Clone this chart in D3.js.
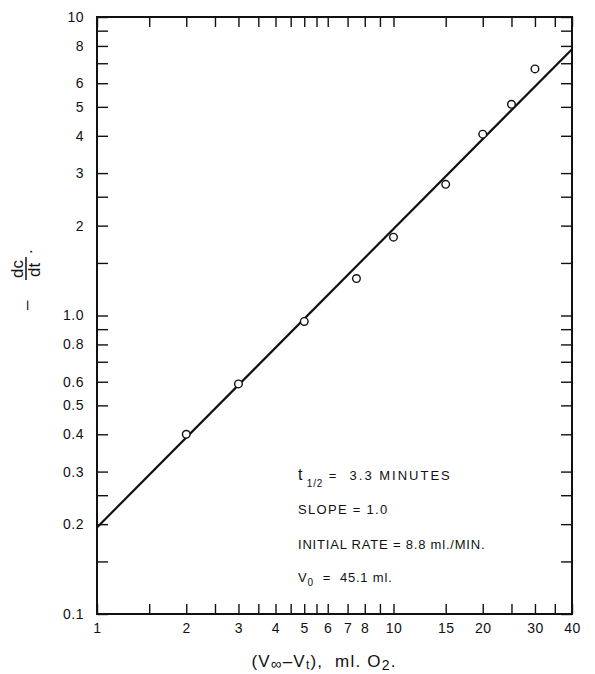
<!DOCTYPE html>
<html>
<head>
<meta charset="utf-8">
<script src="https://cdn.jsdelivr.net/npm/d3@7"></script>
<style>
  body { margin: 0; background: #fff; }
  text { font-family: "Liberation Sans", Arial, sans-serif; fill: #111; white-space: pre; }
  .tick line { stroke: #111; stroke-width: 1.4; }
  .tick text { font-size: 14px; letter-spacing: 0.5px; }
</style>
</head>
<body>
<div id="chart"></div>
<script>
// data: (V_inf - V_t) vs -dc/dt
var volumes = [2, 3, 5, 7.5, 10, 15, 20, 25, 30];
var rates = [0.40, 0.59, 0.955, 1.33, 1.83, 2.75, 4.05, 5.1, 6.7];

// fitted line (slope = 1.0 on log-log)
var fitX = [1, 40];
var fitY = [0.195, 7.8];

// tick positions and labels
var xTicks = [1, 1.5, 2, 2.5, 3, 3.5, 4, 4.5, 5, 5.5, 6, 7, 8, 9, 10, 15, 20, 25, 30, 35, 40];
var xLabels = [1, 2, 3, 4, 5, 6, 7, 8, 10, 15, 20, 30, 40];
var yTicks = [0.1, 0.15, 0.2, 0.25, 0.3, 0.4, 0.5, 0.6, 0.7, 0.8, 0.9, 1, 1.5, 2, 2.5, 3, 4, 5, 6, 7, 8, 9, 10];
var yLabels = [0.1, 0.2, 0.3, 0.4, 0.5, 0.6, 0.8, 1, 2, 3, 4, 5, 6, 8, 10];

var svgWidth = 595;
var svgHeight = 674;

var margin = {
  top: 17,
  right: 23,
  bottom: 60,
  left: 97
};

var width = svgWidth - margin.left - margin.right;
var height = svgHeight - margin.top - margin.bottom;

var svg = d3
  .select("#chart")
  .append("svg")
  .attr("width", svgWidth)
  .attr("height", svgHeight);

var chartGroup = svg.append("g")
  .attr("transform", `translate(${margin.left}, ${margin.top})`);

// log scales on both axes
var xLogScale = d3.scaleLog()
  .domain([1, 40])
  .range([0, width]);

var yLogScale = d3.scaleLog()
  .domain([0.1, 10])
  .range([height, 0]);

function yFormat(d) {
  if (!yLabels.includes(d)) return "";
  if (d === 1) return "1.0";
  return String(d);
}

function xFormat(d) {
  return xLabels.includes(d) ? String(d) : "";
}

// axes with inward ticks
var bottomAxis = d3.axisBottom(xLogScale)
  .tickValues(xTicks)
  .tickSizeInner(-10)
  .tickSizeOuter(0)
  .tickPadding(9)
  .tickFormat(xFormat);

var topAxis = d3.axisTop(xLogScale)
  .tickValues(xTicks)
  .tickSizeInner(-10)
  .tickSizeOuter(0)
  .tickFormat("");

var leftAxis = d3.axisLeft(yLogScale)
  .tickValues(yTicks)
  .tickSizeInner(-11)
  .tickSizeOuter(0)
  .tickPadding(13)
  .tickFormat(yFormat);

var rightAxis = d3.axisRight(yLogScale)
  .tickValues(yTicks)
  .tickSizeInner(-11)
  .tickSizeOuter(0)
  .tickFormat("");

chartGroup.append("g")
  .attr("transform", `translate(0, ${height})`)
  .call(bottomAxis);

chartGroup.append("g")
  .call(topAxis);

chartGroup.append("g")
  .call(leftAxis);

chartGroup.append("g")
  .attr("transform", `translate(${width}, 0)`)
  .call(rightAxis);

chartGroup.selectAll(".domain").remove();

// frame
chartGroup.append("rect")
  .attr("x", 0)
  .attr("y", 0)
  .attr("width", width)
  .attr("height", height)
  .attr("fill", "none")
  .attr("stroke", "#111")
  .attr("stroke-width", 2);

// fit line
var line = d3.line()
  .x(d => xLogScale(d[0]))
  .y(d => yLogScale(d[1]));

chartGroup.append("path")
  .datum(d3.zip(fitX, fitY))
  .attr("d", line)
  .attr("fill", "none")
  .attr("stroke", "#111")
  .attr("stroke-width", 2.2);

// data points as open circles
chartGroup.selectAll(".pt")
  .data(d3.zip(volumes, rates))
  .enter()
  .append("circle")
  .attr("class", "pt")
  .attr("cx", d => xLogScale(d[0]))
  .attr("cy", d => yLogScale(d[1]))
  .attr("r", 3.8)
  .attr("fill", "#fff")
  .attr("stroke", "#111")
  .attr("stroke-width", 1.4);

// annotation block
var notes = chartGroup.append("g")
  .attr("font-size", 13)
  .attr("letter-spacing", 0.8);

var n1 = notes.append("text").attr("x", 201).attr("y", 463);
n1.append("tspan").attr("font-size", 16).text("t");
n1.append("tspan").attr("font-size", 10).attr("dy", 7).text(" 1/2");
n1.append("tspan").attr("dy", -7).attr("letter-spacing", 2).text(" =  3.3 MINUTES");

notes.append("text").attr("x", 201).attr("y", 497)
  .attr("letter-spacing", 1.3).text("SLOPE = 1.0");

notes.append("text").attr("x", 201).attr("y", 532).text("INITIAL RATE = 8.8 ml./MIN.");

var n4 = notes.append("text").attr("x", 201).attr("y", 565);
n4.append("tspan").text("V");
n4.append("tspan").attr("font-size", 10).attr("dy", 4).text("0");
n4.append("tspan").attr("dy", -4).text("  =  45.1 ml.");

// x axis title
var xTitle = svg.append("text")
  .attr("x", 324)
  .attr("y", 667)
  .attr("text-anchor", "middle")
  .attr("font-size", 17)
  .attr("letter-spacing", 1.2);
xTitle.append("tspan").text("(V");
xTitle.append("tspan").attr("font-size", 15).attr("dy", 2).text("\u221e");
xTitle.append("tspan").attr("dy", -2).text("\u2013V");
xTitle.append("tspan").attr("font-size", 12).attr("dy", 2).text("t");
xTitle.append("tspan").attr("dy", -2).text("),  ml. O");
xTitle.append("tspan").attr("font-size", 14).attr("dy", 3).text("2");
xTitle.append("tspan").attr("dy", -3).text(".");

// y axis title: - dc/dt, rotated
var yTitle = svg.append("g")
  .attr("transform", "translate(26, 280) rotate(-90)")
  .attr("font-size", 17);
yTitle.append("text").attr("x", -30).attr("y", 6).text("\u2013");
yTitle.append("text").attr("x", 2).attr("y", -3).text("dc");
yTitle.append("line")
  .attr("x1", 0).attr("x2", 23)
  .attr("y1", 0).attr("y2", 0)
  .attr("stroke", "#111")
  .attr("stroke-width", 1.5);
yTitle.append("text").attr("x", 3).attr("y", 14).text("dt");
yTitle.append("text").attr("x", 26).attr("y", 6).text(".");
</script>
</body>
</html>
